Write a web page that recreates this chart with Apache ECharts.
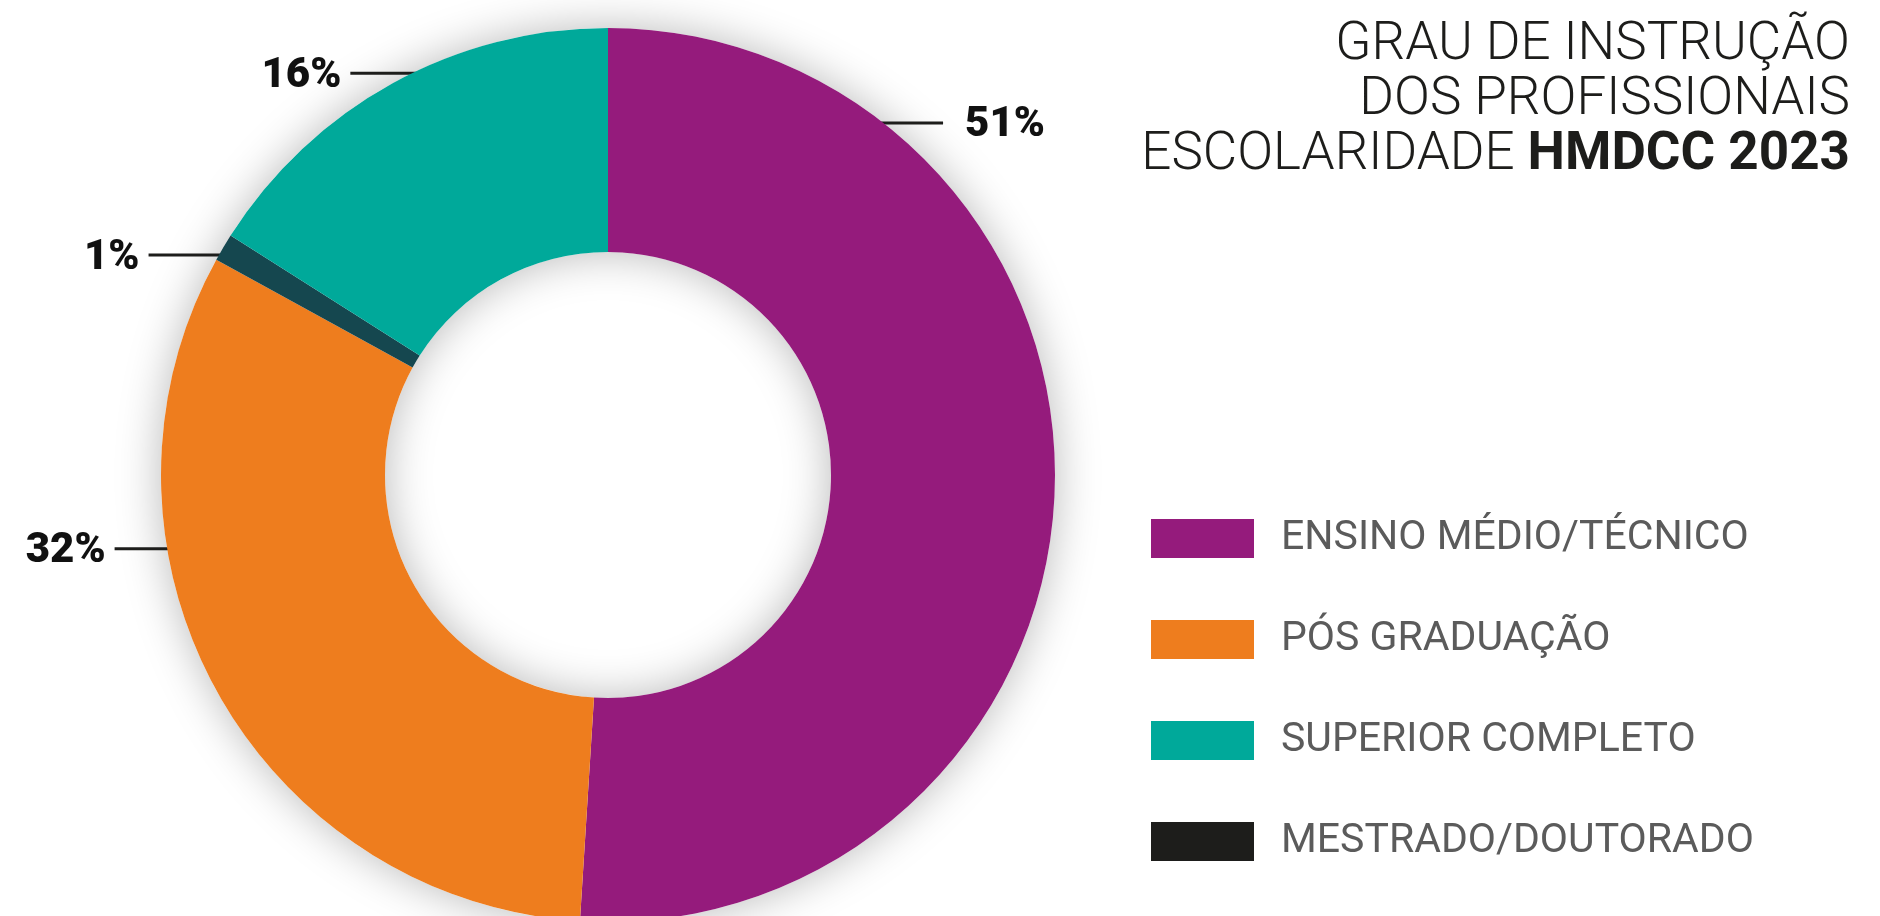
<!DOCTYPE html>
<html>
<head>
<meta charset="utf-8">
<title>Grau de instrução dos profissionais</title>
<script src="https://cdn.jsdelivr.net/npm/echarts@6/dist/echarts.min.js"></script>
<style>
  html, body { margin: 0; padding: 0; background: #fff; }
  #chart { width: 1880px; height: 916px; }
</style>
</head>
<body>
<div id="chart"></div>
<script>
// categories in drawing order (clockwise from 12 o'clock)
const categories = ["ENSINO MÉDIO/TÉCNICO", "PÓS GRADUAÇÃO", "MESTRADO/DOUTORADO", "SUPERIOR COMPLETO"];
const percentages = [51, 32, 1, 16];
const sliceColors = ["#951b7c", "#ee7d1e", "#15474f", "#00a99a"];
// legend order as printed on the right
const legendOrder = ["ENSINO MÉDIO/TÉCNICO", "PÓS GRADUAÇÃO", "SUPERIOR COMPLETO", "MESTRADO/DOUTORADO"];
const legendColors = ["#951b7c", "#ee7d1e", "#00a99a", "#1d1d1b"];
const titleLines = ["GRAU DE INSTRUÇÃO", "DOS PROFISSIONAIS", "ESCOLARIDADE {b|HMDCC 2023}"];

const chart = echarts.init(document.getElementById("chart"));

// ring geometry (px)
const cx = 608, cy = 475, rIn = 223, rOut = 447;
// where each label line starts inside its slice (angle clockwise from top, distance from center)
const anchors = [
  { angle: 35.6, r: 433, side: "right" },
  { angle: 259.8, r: 417, side: "left" },
  { angle: 300.3, r: 436, side: "left" },
  { angle: 336.5, r: 438, side: "left" },
];
const lineLen = 83;

const titleStyle = {
  fontFamily: "Roboto",
  fontWeight: 300,
  fontSize: 53,
  lineHeight: 55,
  color: "#1d1d1b",
  rich: {
    b: {
      fontFamily: "Roboto",
      fontWeight: 700,
      fontSize: 53,
      lineHeight: 55,
      color: "#1d1d1b",
    },
  },
};

const option = {
  animation: false,
  backgroundColor: "#fff",
  // one title per line so every line is right aligned
  title: titleLines.map((t, i) => ({
    right: 30,
    top: 18 + i * 55,
    padding: 0,
    text: t,
    textStyle: titleStyle,
  })),
  legend: {
    orient: "vertical",
    left: 1146,
    top: 513,
    icon: "rect",
    itemWidth: 103,
    itemHeight: 39,
    itemGap: 60,
    selectedMode: false,
    data: legendOrder.map((name, i) => ({
      name: name,
      itemStyle: { color: legendColors[i] },
    })),
    textStyle: {
      fontFamily: "Roboto",
      fontSize: 41,
      lineHeight: 39,
      color: "#5b5b5b",
      padding: [0, 0, 0, 22],
    },
  },
  series: [
    {
      // soft shadow under the ring
      type: "pie",
      silent: true,
      center: [cx, cy],
      radius: [rIn, rOut],
      label: { show: false },
      labelLine: { show: false },
      itemStyle: {
        color: "#fff",
        shadowBlur: 45,
        shadowColor: "rgba(0,0,0,0.28)",
      },
      data: [{ value: 1, name: "" }],
      z: 1,
    },
    {
      type: "pie",
      center: [cx, cy],
      radius: [rIn, rOut],
      startAngle: 90,
      clockwise: true,
      z: 2,
      itemStyle: { borderWidth: 0 },
      label: {
        show: true,
        position: "outside",
        formatter: "{c}%",
        fontFamily: "Roboto",
        fontWeight: 900,
        fontSize: 42,
        color: "#111111",
      },
      labelLine: {
        show: true,
        lineStyle: { color: "#1d1d1b", width: 3 },
      },
      labelLayout: function (params) {
        const a = anchors[params.dataIndex];
        const rad = (a.angle * Math.PI) / 180;
        const ax = cx + a.r * Math.sin(rad);
        const ay = cy - a.r * Math.cos(rad);
        if (a.side === "right") {
          const ex = ax + lineLen;
          return {
            x: ex + 22,
            y: ay + 3,
            align: "left",
            verticalAlign: "middle",
            labelLinePoints: [[ax, ay], [ex - 1, ay], [ex, ay]],
          };
        }
        const ex = ax - lineLen;
        return {
          x: ex - 9,
          y: ay + 3,
          align: "right",
          verticalAlign: "middle",
          labelLinePoints: [[ax, ay], [ex + 1, ay], [ex, ay]],
        };
      },
      emphasis: { scale: false },
      data: categories.map((name, i) => ({
        name: name,
        value: percentages[i],
        itemStyle: { color: sliceColors[i] },
      })),
    },
  ],
};

chart.setOption(option);
</script>
</body>
</html>
